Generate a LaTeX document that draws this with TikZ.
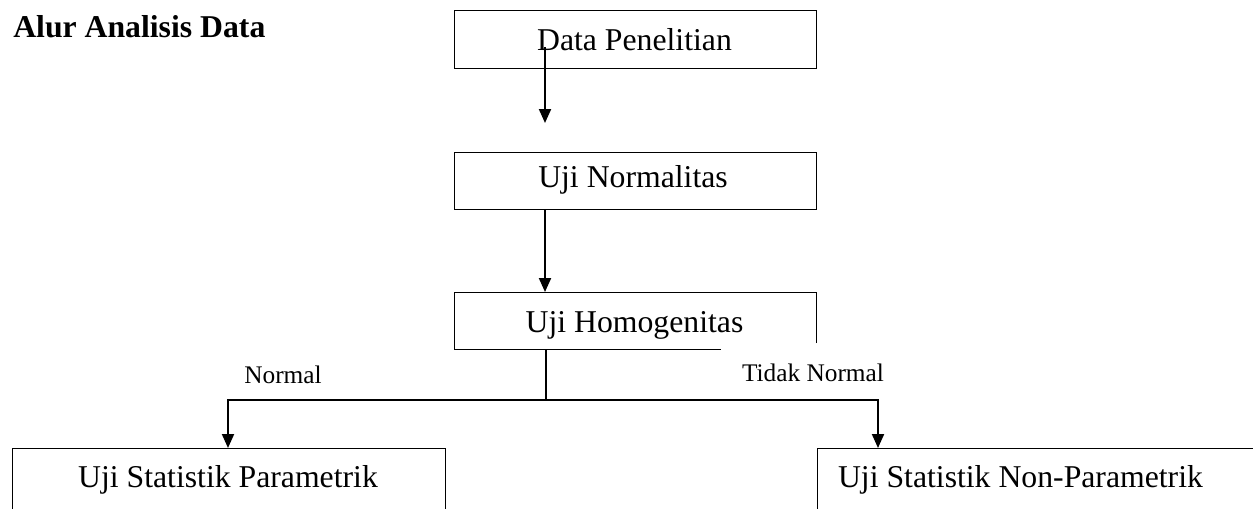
\documentclass[tikz,border=0pt]{standalone}
\usepackage{fontspec}
\setmainfont{Liberation Serif}
\usetikzlibrary{arrows.meta}
\begin{document}
\begin{tikzpicture}[x=0.75pt,y=-0.75pt,
  box/.style={draw, line width=0.75pt, rectangle, inner sep=0pt},
  lbl/.style={font=\fontsize{23.8}{28}\selectfont, inner sep=0pt, anchor=base},
  small/.style={font=\fontsize{19}{23}\selectfont, inner sep=0pt, anchor=base},
  conn/.style={line width=1.5pt},
  arr/.style={conn, -{Triangle[width=9pt,length=10.5pt]}}]
\clip (0,0) rectangle (1253,508);
% title
\node[font=\bfseries\fontsize{23.8}{28}\selectfont, anchor=base west, inner sep=0pt] (title) at (13,37) {Alur Analisis Data};
% boxes
\node[box, minimum width=271.5pt, minimum height=43.5pt] (b1) at (635,39) {};
\node[box, minimum width=271.5pt, minimum height=42.75pt] (b2) at (635,180.5) {};
\coordinate (h1) at (816,343);
\coordinate (h2) at (816,292);
\coordinate (h3) at (454,292);
\coordinate (h4) at (454,349);
\coordinate (h5) at (721,349);
\draw[line width=0.75pt] (h1) -- (h2) -- (h3) -- (h4) -- (h5);
\node[box, minimum width=324.75pt, minimum height=60pt] (b4) at (228.5,488) {};
\node[box, minimum width=362.25pt, minimum height=69pt] (b5) at (1058.5,494) {};
% texts
\node[lbl] (t1) at (634.5,50) {Data Penelitian};
\node[lbl] (t2) at (633,187) {Uji Normalitas};
\node[lbl] (t3) at (634.5,332) {Uji Homogenitas};
\node[lbl] (t4) at (228,487) {Uji Statistik Parametrik};
\node[lbl] (t5) at (1020.5,487) {Uji Statistik Non-Parametrik};
\node[small] (n1) at (283,383) {Normal};
\node[small] (n2) at (813,381) {Tidak Normal};
% connectors
\coordinate (a1s) at (545,47);
\coordinate (a1e) at (545,123);
\draw[arr] (a1s) -- (a1e);
\draw[arr] (b2.south -| a1s) -- (h3 -| a1s);
\coordinate (st) at (546,349);
\coordinate (jn) at (546,400);
\draw[conn] (st) -- (jn);
\coordinate (pl) at (228,448);
\coordinate (pr) at (878,448);
\draw[arr] (jn) -| (pl);
\draw[arr] (jn) -| (pr);
\end{tikzpicture}
\end{document}
